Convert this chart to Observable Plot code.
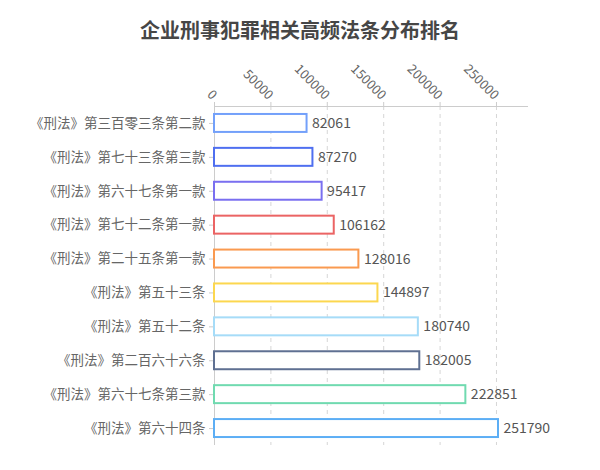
<!DOCTYPE html>
<html>
<head>
<meta charset="utf-8">
<script src="https://cdn.jsdelivr.net/npm/d3@7"></script>
<script src="https://cdn.jsdelivr.net/npm/@observablehq/plot@0.6"></script>
<style>
  html, body { margin: 0; padding: 0; background: #fff; }
  body { width: 600px; font-family: "Noto Sans CJK SC", "Noto Sans", sans-serif; }
  #title { height: 56px; line-height: 60px; text-align: center; font-size: 20px; font-weight: bold; color: #464646; }
  #chart svg { display: block; }
</style>
</head>
<body>
<div id="title">企业刑事犯罪相关高频法条分布排名</div>
<div id="chart"></div>
<script>
const categories = [
  "《刑法》第三百零三条第二款",
  "《刑法》第七十三条第三款",
  "《刑法》第六十七条第一款",
  "《刑法》第七十二条第一款",
  "《刑法》第二十五条第一款",
  "《刑法》第五十三条",
  "《刑法》第五十二条",
  "《刑法》第二百六十六条",
  "《刑法》第六十七条第三款",
  "《刑法》第六十四条"
];
const values = [82061, 87270, 95417, 106162, 128016, 144897, 180740, 182005, 222851, 251790];
const colors = ["#73a0fa", "#4f6ff0", "#7a6ff0", "#eb6464", "#fa9a50", "#fcd74f", "#a6dcf8", "#5f7092", "#70dab0", "#5caef5"];
const xTicks = [0, 50000, 100000, 150000, 200000, 250000];
const xMax = 277500;

const data = categories.map((c, i) => ({category: c, value: values[i], color: colors[i]}));

const chart = Plot.plot({
  width: 600,
  height: 414,
  marginTop: 50,
  marginBottom: 25,
  marginLeft: 214,
  marginRight: 73,
  style: {fontFamily: '"Noto Sans CJK SC", "Noto Sans", sans-serif', fontSize: "13px", color: "#666", background: "#fff"},
  x: {domain: [0, xMax], axis: null},
  y: {domain: categories, paddingInner: 0.47, paddingOuter: 0.235, round: false, axis: null},
  marks: [
    Plot.ruleX(xTicks.slice(1), {stroke: "#d6d6d6", strokeDasharray: "4,4", strokeWidth: 1}),
    Plot.frame({anchor: "top", stroke: "#ccc"}),
    Plot.ruleX([0], {stroke: "#ccc"}),
    Plot.axisX({anchor: "top", ticks: xTicks, tickSize: 5, tickPadding: 4, tickRotate: 45, stroke: "#ccc", fill: "#666", fontSize: 13, label: null, tickFormat: d => String(d)}),
    Plot.axisY({anchor: "left", tickSize: 5, tickPadding: 4, stroke: "#ccc", fill: "#666", fontSize: 13.5, label: null}),
    Plot.barX(data, {y: "category", x: "value", fill: "#fff", stroke: "color", strokeWidth: 2}),
    Plot.text(data, {y: "category", x: "value", text: d => String(d.value), textAnchor: "start", dx: 5, fill: "#555", fontSize: 14})
  ]
});
document.getElementById("chart").appendChild(chart);
</script>
</body>
</html>
